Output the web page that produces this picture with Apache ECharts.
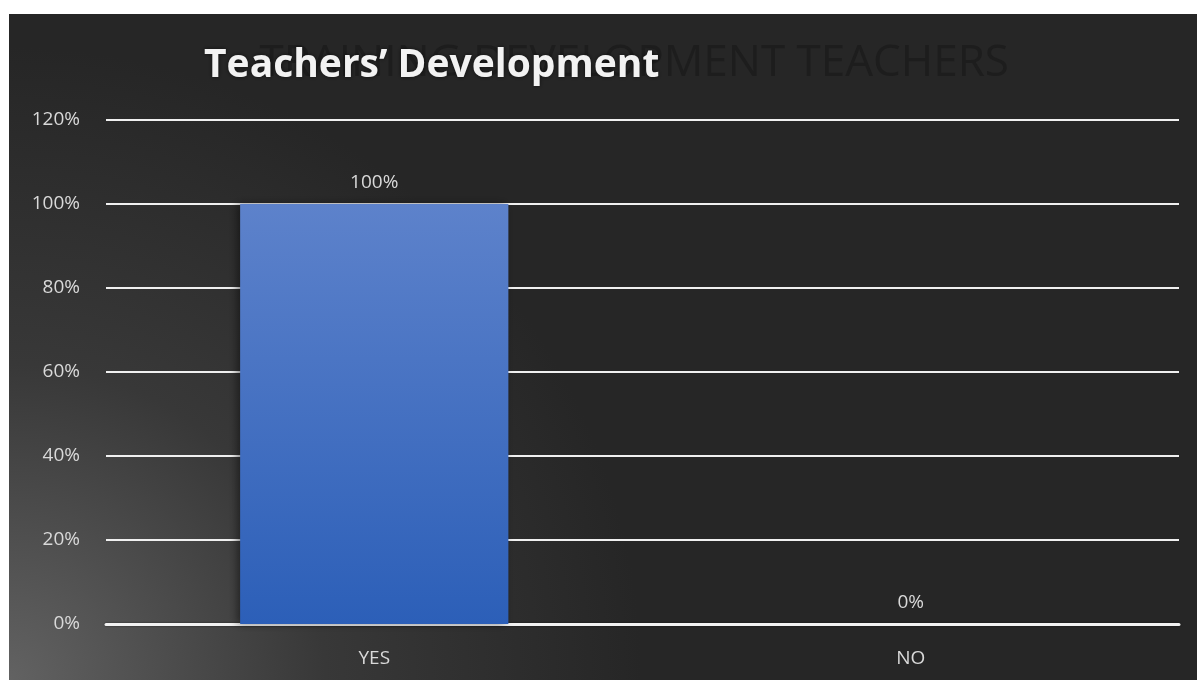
<!DOCTYPE html>
<html>
<head>
<meta charset="utf-8">
<script src="https://cdn.jsdelivr.net/npm/echarts@6/dist/echarts.min.js"></script>
<style>
  html, body { margin: 0; padding: 0; background: #fff; }
  #main { width: 1197px; height: 680px; }
</style>
</head>
<body>
<div id="main"></div>
<script>
// chart data
const categories = ["YES", "NO"];
const values = [1.0, 0];
const yTicks = [0, 0.2, 0.4, 0.6, 0.8, 1.0, 1.2];

const myChart = echarts.init(document.getElementById("main"));
const pct = (v) => Math.round(v * 100) + "%";

const option = {
  backgroundColor: "#ffffff",
  animation: false,
  graphic: [
    {
      type: "rect",
      z: -10,
      shape: { x: 9, y: 14, width: 1188, height: 666 },
      style: {
        fill: new echarts.graphic.RadialGradient(0, 1, 0.95, [
          { offset: 0, color: "#626262" },
          { offset: 0.5, color: "#383838" },
          { offset: 1, color: "#262626" },
        ]),
      },
    },
    {
      // faint text sitting behind the title
      type: "text",
      z: -5,
      x: 1009,
      y: 41,
      style: {
        text: "TRAINING DEVELOPMENT TEACHERS",
        align: "right",
        fill: "#1d1d1d",
        font: "normal 44px 'Open Sans'",
        shadowColor: "#1a1a1a",
        shadowBlur: 4,
      },
    },
  ],
  title: {
    text: "Teachers\u2019 Development",
    left: 199,
    top: 41,
    textStyle: {
      color: "#f2f2f2",
      fontFamily: "Open Sans",
      fontWeight: "bold",
      fontSize: 39,
      textShadowColor: "rgba(0,0,0,0.6)",
      textShadowBlur: 4,
    },
  },
  grid: { left: 106, right: 18, top: 120, bottom: 56 },
  xAxis: {
    type: "category",
    data: categories,
    axisTick: { show: false },
    axisLine: {
      lineStyle: {
        color: "#f2f2f2",
        width: 3,
        shadowColor: "rgba(0,0,0,0.6)",
        shadowBlur: 2,
      },
    },
    axisLabel: {
      color: "#d9d9d9",
      fontFamily: "Open Sans",
      fontSize: 19,
      margin: 25,
    },
  },
  yAxis: {
    type: "value",
    min: 0,
    max: yTicks[yTicks.length - 1],
    interval: yTicks[1] - yTicks[0],
    axisLine: { show: false },
    axisTick: { show: false },
    axisLabel: {
      color: "#d9d9d9",
      fontFamily: "Open Sans",
      fontSize: 19,
      margin: 26,
      formatter: pct,
    },
    splitLine: { lineStyle: { color: "#f0f0f0", width: 2 } },
  },
  series: [
    {
      type: "bar",
      data: values,
      barWidth: "50%",
      itemStyle: {
        color: new echarts.graphic.LinearGradient(0, 0, 0, 1, [
          { offset: 0, color: "#5d82cb" },
          { offset: 1, color: "#2c5fb8" },
        ]),
        shadowColor: "rgba(0,0,0,0.45)",
        shadowBlur: 8,
        shadowOffsetX: -3,
      },
      label: {
        show: true,
        position: "top",
        distance: 12,
        color: "#d9d9d9",
        fontFamily: "Open Sans",
        fontSize: 19,
        formatter: (p) => pct(p.value),
      },
    },
  ],
};

myChart.setOption(option);
</script>
</body>
</html>
